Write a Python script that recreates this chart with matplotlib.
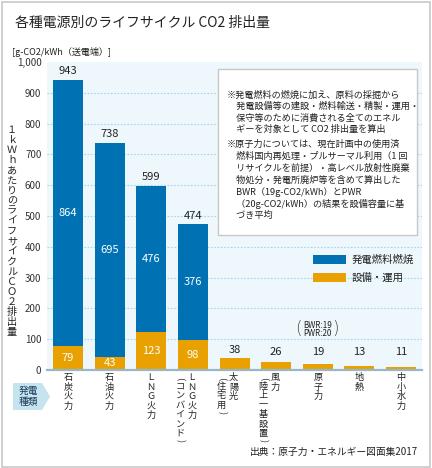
import matplotlib
matplotlib.use("Agg")
import matplotlib.pyplot as plt
import matplotlib.transforms as mtransforms
from matplotlib.patches import Rectangle, Polygon

plt.rcParams['font.family'] = ['Noto Sans CJK JP', 'DejaVu Sans']

# データ（原子力・エネルギー図面集2017）
sources = ['石炭火力', '石油火力', 'ＬＮＧ火力', 'ＬＮＧ火力', '太陽光', '風力', '原子力', '地熱', '中小水力']
sources_note = ['', '', '', '(コンバインド)', '(住宅用)', '(陸上一基設置)', '', '', '']
fuel = [864, 695, 476, 376, 0, 0, 0, 0, 0]      # 発電燃料燃焼
equip = [79, 43, 123, 98, 38, 26, 19, 13, 11]   # 設備・運用
total = [943, 738, 599, 474, 38, 26, 19, 13, 11]
yticks = [0, 100, 200, 300, 400, 500, 600, 700, 800, 900, 1000]
ytick_labels = ['0', '100', '200', '300', '400', '500', '600', '700', '800', '900', '1,000']

BLUE = '#0072b4'
ORANGE = '#e8a100'
BG = '#eef7fc'
GRID = '#9fd6ef'
TXT = '#222222'

W, H = 432, 468
fig = plt.figure(figsize=(W / 100, H / 100), dpi=100)


def fx(x):
    return x / W


def fy(y):
    return 1 - y / H


ax = fig.add_axes([fx(47), fy(370), (422 - 47) / W, (370 - 62) / H])
ax.set_facecolor(BG)
x = list(range(len(sources)))
ax.bar(x, equip, width=0.72, color=ORANGE, zorder=2)
ax.bar(x, fuel, bottom=equip, width=0.72, color=BLUE, zorder=2)
ax.set_xlim(-0.5, len(sources) - 0.5)
ax.set_ylim(0, 1000)
for v in yticks[1:-1]:
    ax.axhline(v, color=GRID, lw=0.8, ls=(0, (1.5, 1.5)), zorder=1)
for s in ['top', 'right', 'left']:
    ax.spines[s].set_visible(False)
ax.spines['bottom'].set_color('#97b8cc')
ax.spines['bottom'].set_linewidth(1.6)
ax.set_xticks([])
ax.set_yticks(yticks, ytick_labels)
ax.tick_params(axis='y', length=0, pad=4, labelsize=7, labelcolor='#333333')

# 数値ラベル
for i in x:
    if fuel[i] > 0:
        ax.text(i, equip[i] + fuel[i] / 2, str(fuel[i]), color='white', ha='center', va='center',
                fontsize=8, zorder=3)
        ax.text(i, equip[i] / 2, str(equip[i]), color='white', ha='center', va='center',
                fontsize=8, zorder=3)
    ax.annotate(str(total[i]), (i, max(total[i], 32)), xytext=(0, 2.5), textcoords='offset points',
                ha='center', va='bottom', fontsize=8, color=TXT, zorder=3)

# 縦書きヘルパー
def vtext(trans, x, y_top, s, size, step, dx=0, **kw):
    t = mtransforms.offset_copy(trans, fig=fig, x=dx, y=0, units='dots')
    y = y_top
    for ch in s:
        if ch in '()':
            h = step * 0.6
            fig.text(x, fy(y + h / 2), ch, transform=t, rotation=-90, ha='center', va='center',
                     fontsize=size, color=TXT, **kw)
        else:
            h = step
            fig.text(x, fy(y + h / 2), ch, transform=t, ha='center', va='center',
                     fontsize=size, color=TXT, **kw)
        y += h


xtrans = mtransforms.blended_transform_factory(ax.transData, fig.transFigure)
for i in x:
    if sources_note[i]:
        vtext(xtrans, i, 373, sources[i], 6.6, 9.4, dx=-1)
        vtext(xtrans, i, 376, sources_note[i], 6.6, 9.4, dx=-13)
    else:
        vtext(xtrans, i, 373, sources[i], 6.6, 9.4)

# 原子力の注記
fig.text(6, fy(325), 'BWR:19', transform=xtrans, ha='center', va='center', fontsize=5.8, color=TXT)
fig.text(6, fy(334), 'PWR:20', transform=xtrans, ha='center', va='center', fontsize=5.8, color=TXT)
fig.text(6, fy(329.5), '(', transform=mtransforms.offset_copy(xtrans, fig=fig, x=-19, units='dots'),
         ha='center', va='center', fontsize=12, color='#444444', family='DejaVu Sans',
         fontweight='light')
fig.text(6, fy(329.5), ')', transform=mtransforms.offset_copy(xtrans, fig=fig, x=18, units='dots'),
         ha='center', va='center', fontsize=12, color='#444444', family='DejaVu Sans',
         fontweight='light')

# y軸ラベル（縦書き）
ylabel = '１ｋＷｈあたりのライフサイクルＣＯ２排出量'
vtext(fig.transFigure, fx(12), 125, ylabel, 7.3, 10.1)

# タイトル・単位・出典
fig.text(fx(15), fy(22.5), '各種電源別のライフサイクル CO2 排出量', fontsize=10, color=TXT, va='center')
fig.text(fx(12), fy(52), '[g-CO2/kWh（送電端）]', fontsize=6.5, color=TXT, va='center')
fig.text(fx(418), fy(452), '出典：原子力・エネルギー図面集2017', fontsize=7, color=TXT,
         ha='right', va='center')

# 説明ボックス
fig.add_artist(Rectangle((fx(218), fy(235)), (417 - 218) / W, (235 - 69) / H,
                         transform=fig.transFigure, facecolor='white', edgecolor='#c8c8c8', lw=1))
note1 = ['※発電燃料の燃焼に加え、原料の採掘から',
         '　発電設備等の建設・燃料輸送・精製・運用・',
         '　保守等のために消費される全てのエネル',
         '　ギーを対象として CO2 排出量を算出']
note2 = ['※原子力については、現在計画中の使用済',
         '　燃料国内再処理・プルサーマル利用（1 回',
         '　リサイクルを前提）・高レベル放射性廃棄',
         '　物処分・発電所廃炉等を含めて算出した',
         '　BWR（19g-CO2/kWh）とPWR',
         '　（20g-CO2/kWh）の結果を設備容量に基',
         '　づき平均']
for k, line in enumerate(note1):
    fig.text(fx(227), fy(95 + 11.4 * k), line, fontsize=6.6, color=TXT, va='center')
for k, line in enumerate(note2):
    fig.text(fx(227), fy(144 + 11.9 * k), line, fontsize=6.6, color=TXT, va='center')

# 凡例
fig.add_artist(Rectangle((fx(313), fy(264)), 33 / W, 9 / H, transform=fig.transFigure,
                         facecolor=BLUE, edgecolor='none'))
fig.add_artist(Rectangle((fx(313), fy(282)), 33 / W, 9 / H, transform=fig.transFigure,
                         facecolor=ORANGE, edgecolor='none'))
fig.text(fx(352), fy(259.5), '発電燃料燃焼', fontsize=7.5, color=TXT, va='center')
fig.text(fx(352), fy(277.5), '設備・運用', fontsize=7.5, color=TXT, va='center')

# 発電種類バッジ
badge = [(13, 383), (42, 383), (50, 396.5), (42, 410), (13, 410)]
fig.add_artist(Polygon([(fx(a), fy(b)) for a, b in badge], closed=True, transform=fig.transFigure,
                       facecolor='#c5e4f0', edgecolor='none'))
fig.text(fx(28), fy(391), '発電', fontsize=7, color='#1d3a5a', ha='center', va='center')
fig.text(fx(28), fy(402), '種類', fontsize=7, color='#1d3a5a', ha='center', va='center')

# 外枠
fig.add_artist(Rectangle((fx(1.5), fy(466.5)), 428.5 / W, 465 / H, transform=fig.transFigure,
                         fill=False, edgecolor='#c8c8c8', lw=1.2))

fig.savefig('out.png', dpi=100)
